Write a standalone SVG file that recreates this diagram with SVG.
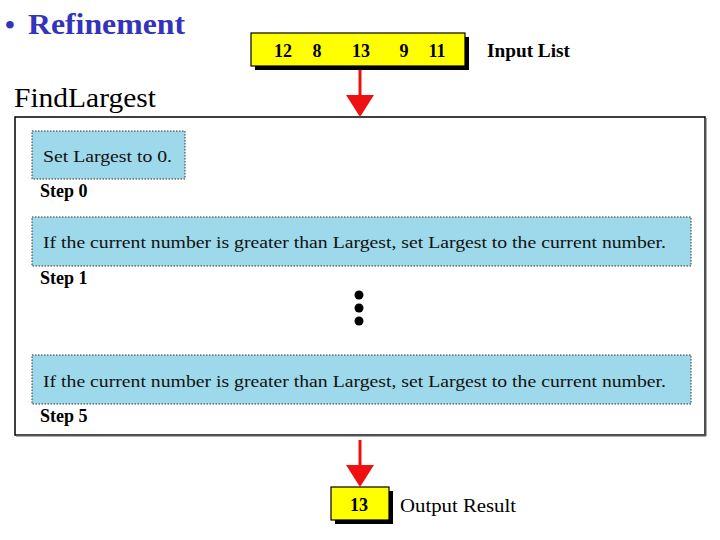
<svg xmlns="http://www.w3.org/2000/svg" width="720" height="540" viewBox="0 0 720 540" font-family="'Liberation Serif', 'DejaVu Serif', serif">
<defs>
<style>
.yb{fill:#ffff00;stroke:#000;stroke-width:1.2;}
.sh{fill:#000;}
.bl{fill:#9dd9ea;stroke:#333;stroke-width:1;stroke-dasharray:1.5 1.5;}
.num{font-weight:bold;font-size:18px;fill:#000;}
.step{font-weight:bold;font-size:18px;fill:#000;}
.txt{font-size:17px;fill:#111;}
.arr{stroke:#ee1111;stroke-width:3;}
</style>
</defs>
<rect width="720" height="540" fill="#fff"/>
<g id="title" font-weight="bold" fill="#3333bb">
<text x="5" y="34" font-size="28">•</text>
<text x="28" y="34" font-size="30" textLength="157" lengthAdjust="spacingAndGlyphs">Refinement</text>
</g>

<g id="input">
<rect class="sh" x="255" y="37" width="214" height="33"/>
<rect class="yb" x="251" y="33" width="214" height="33"/>
<text class="num" x="283" y="57" text-anchor="middle">12</text>
<text class="num" x="317" y="57" text-anchor="middle">8</text>
<text class="num" x="361" y="57" text-anchor="middle">13</text>
<text class="num" x="404" y="57" text-anchor="middle">9</text>
<text class="num" x="437" y="57" text-anchor="middle">11</text>
<text x="487" y="57" font-size="19" font-weight="bold" textLength="83" lengthAdjust="spacingAndGlyphs">Input List</text>
</g>

<g id="findlargest">
<text x="14" y="107" font-size="27" textLength="142" lengthAdjust="spacingAndGlyphs">FindLargest</text>
<rect x="15" y="117" width="690" height="318" fill="#fff" stroke="#000" stroke-width="1.5"/>
<line x1="705.5" y1="118" x2="705.5" y2="436" stroke="#555" stroke-width="2"/>
<line x1="16" y1="435.5" x2="706" y2="435.5" stroke="#555" stroke-width="2"/>
</g>

<g id="step0">
<rect class="bl" x="32" y="131" width="153" height="48"/>
<text class="txt" x="43" y="162" textLength="129" lengthAdjust="spacingAndGlyphs">Set Largest to 0.</text>
<text class="step" x="40" y="197">Step 0</text>
</g>

<g id="step1">
<rect class="bl" x="32" y="217" width="659" height="49"/>
<text class="txt" x="43" y="248" textLength="623" lengthAdjust="spacingAndGlyphs">If the current number is greater than Largest, set Largest to the current number.</text>
<text class="step" x="40" y="284">Step 1</text>
</g>

<g id="ellipsis">
<circle cx="359" cy="295" r="4.5" fill="#000"/>
<circle cx="359" cy="308" r="4.5" fill="#000"/>
<circle cx="359" cy="321" r="4.5" fill="#000"/>
</g>

<g id="step5">
<rect class="bl" x="32" y="355" width="659" height="49"/>
<text class="txt" x="43" y="387" textLength="623" lengthAdjust="spacingAndGlyphs">If the current number is greater than Largest, set Largest to the current number.</text>
<text class="step" x="40" y="422">Step 5</text>
</g>

<g id="output">
<rect class="sh" x="335" y="491" width="58" height="33"/>
<rect class="yb" x="331" y="487" width="58" height="33"/>
<text class="num" x="359" y="511" text-anchor="middle">13</text>
<text x="400" y="512" font-size="19" textLength="116" lengthAdjust="spacingAndGlyphs">Output Result</text>
</g>

<g id="connectors">
<line class="arr" x1="360" y1="70" x2="360" y2="96"/>
<path d="M346,95 L374,95 L360,117 Z" fill="#ee1111"/>
<line class="arr" x1="360" y1="440" x2="360" y2="466"/>
<path d="M346,465 L374,465 L360,487 Z" fill="#ee1111"/>
</g>
</svg>
